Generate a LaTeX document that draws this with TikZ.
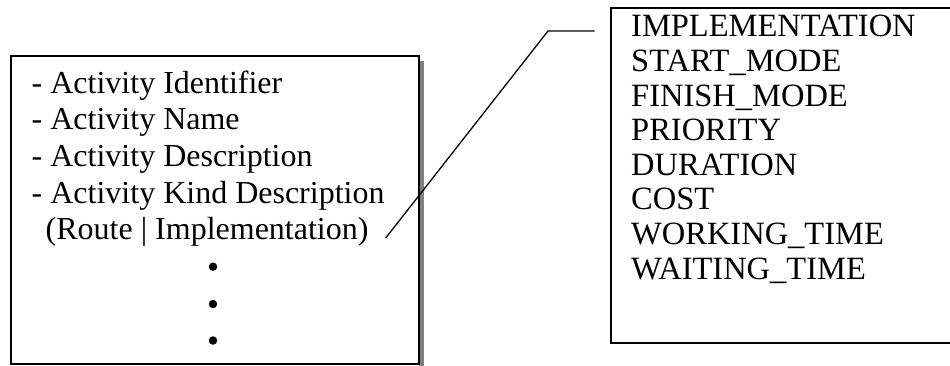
\documentclass[tikz,border=0pt]{standalone}
\usepackage{fontspec}
\setmainfont{Liberation Serif}
\begin{document}
\begin{tikzpicture}[x=1pt,y=-1pt,
  frame/.style={draw=black,line width=2pt,rectangle,inner sep=0pt,anchor=north west},
  leader/.style={draw=black,line width=1.3pt},
  attr/.style={anchor=base west,inner sep=0pt,font=\fontsize{32}{36}\selectfont},
  field/.style={anchor=base west,inner sep=0pt,font=\fontsize{32.5}{35}\selectfont},
  dot/.style={circle,fill=black,inner sep=0pt,minimum size=8.5pt}]
\useasboundingbox (0,0) rectangle (950,366);
\clip (0,0) rectangle (950,366);

% attribute box with its drop shadow
\fill[black!50] (419,61) rectangle (424,370);
\node[frame,minimum width=408pt,minimum height=308pt] (attrs) at (10,55) {};
\node[attr] (a1) at (31.5,93.3) {- Activity Identifier};
\node[attr] (a2) at (31.5,130) {- Activity Name};
\node[attr] (a3) at (31.5,166.7) {- Activity Description};
\node[attr] (a4) at (31.5,203.3) {- Activity Kind Description};
\node[attr] (a5) at (45.5,240) {(Route | Implementation)};
\node[dot] (d1) at (213,266.7) {};
\node[dot] (d2) at (213,304) {};
\node[dot] (d3) at (213,340.5) {};

% implementation fields box
\node[frame,minimum width=380pt,minimum height=335pt] (fields) at (610,7) {};
\node[field] (f1) at (631,37) {IMPLEMENTATION};
\node[field] (f2) at (631,71.6) {START\_MODE};
\node[field] (f3) at (631,106.2) {FINISH\_MODE};
\node[field] (f4) at (631,140.8) {PRIORITY};
\node[field] (f5) at (631,175.4) {DURATION};
\node[field] (f6) at (631,210) {COST};
\node[field] (f7) at (631,244.6) {WORKING\_TIME};
\node[field] (f8) at (631,279.2) {WAITING\_TIME};

% callout leader from the activity kind entry
\coordinate (tail) at (385.7,238);
\coordinate (bend) at (548,31);
\coordinate (head) at (594.5,31);
\draw[leader] (tail) -- (bend) -- (head);
\end{tikzpicture}
\end{document}
